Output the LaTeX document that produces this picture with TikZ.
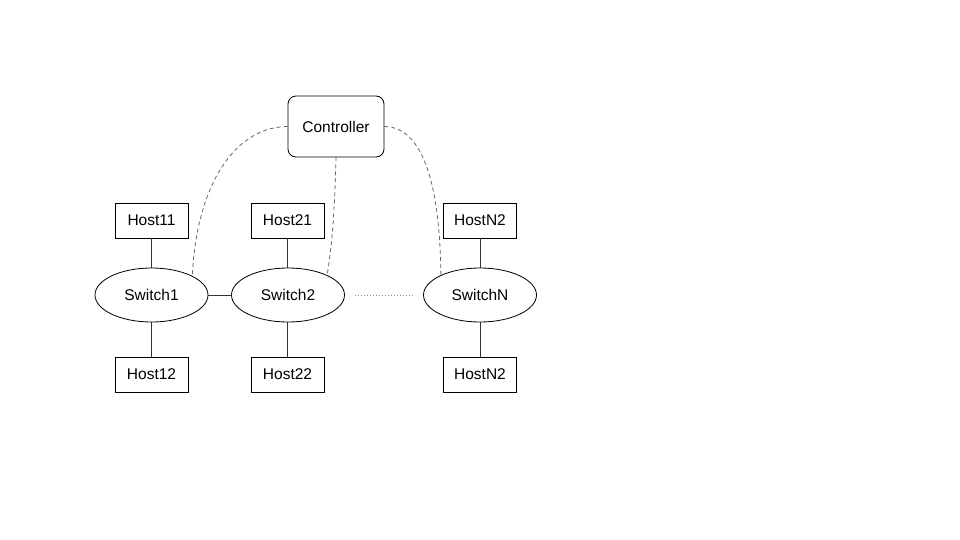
\documentclass[tikz,border=0pt]{standalone}
\usepackage{fontspec}
\setmainfont{Liberation Sans}
\usetikzlibrary{shapes.geometric}
\begin{document}
\begin{tikzpicture}[x=1pt,y=-1pt,
  every node/.style={font=\fontsize{15.5}{18}\selectfont, inner sep=0pt},
  hostbox/.style={draw=black, line width=0.8pt, minimum width=73pt, minimum height=35pt},
  switchnode/.style={draw=black, ellipse, line width=0.8pt, minimum width=113pt, minimum height=54pt},
  ctrlbox/.style={draw=black, line width=0.8pt, rounded corners=8pt, minimum width=96pt, minimum height=61pt},
  link/.style={draw=black!80, line width=0.8pt},
  ctrllink/.style={draw=black!60, line width=0.8pt, dash pattern=on 4pt off 3pt},
  farlink/.style={draw=black!45, line width=0.8pt, dash pattern=on 1pt off 2pt}]
\useasboundingbox (0,0) rectangle (960,540);

% controller
\node[ctrlbox] (ctrl) at (336,126.5) {Controller};

% switches
\node[switchnode] (sw1) at (151.5,295) {Switch1};
\node[switchnode] (sw2) at (288,295) {Switch2};
\node[switchnode] (swN) at (480,295) {SwitchN};

% hosts
\node[hostbox] (h11) at (151.5,220.5) {Host11};
\node[hostbox] (h12) at (151.5,374.5) {Host12};
\node[hostbox] (h21) at (287.5,220.5) {Host21};
\node[hostbox] (h22) at (287.5,374.5) {Host22};
\node[hostbox] (hN1) at (480,220.5) {HostN2};
\node[hostbox] (hN2) at (480,374.5) {HostN2};

% host links
\draw[link] (h11) -- (sw1);
\draw[link] (h12) -- (sw1);
\draw[link] (h21.south) -- (h21.south |- sw2.north);
\draw[link] (h22.north) -- (h22.north |- sw2.south);
\draw[link] (hN1) -- (swN);
\draw[link] (hN2) -- (swN);

% switch links
\draw[link] (sw1) -- (sw2);
\draw[farlink, shorten <=10pt, shorten >=10pt] (sw2.east) -- (swN.west);

% control channels
\draw[ctrllink] (ctrl.west) .. controls (232,127) and (196,190) .. (sw1.25);
\draw[ctrllink] (ctrl.south) .. controls (335,200) and (333,240) .. (sw2.27);
\draw[ctrllink] (ctrl.east) .. controls (428,127) and (440,200) .. (swN.153);
\end{tikzpicture}
\end{document}
